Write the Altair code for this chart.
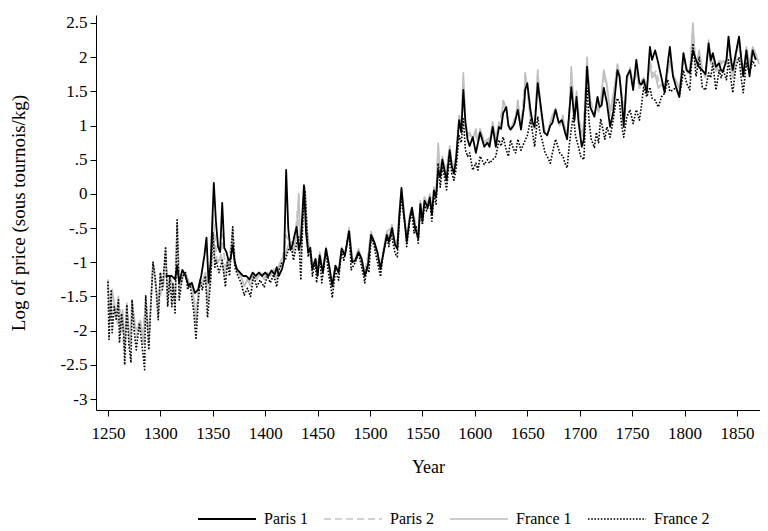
import altair as alt
import pandas as pd

series_names = ["Paris 1", "Paris 2", "France 1", "France 2"]

paris1_points = [
    (1305, -1.20), (1308, -1.20), (1311, -1.20), (1314, -1.25), (1316, -1.05), (1318, -1.30),
    (1321, -1.11), (1324, -1.20), (1327, -1.35), (1330, -1.30), (1333, -1.45), (1336, -1.40),
    (1339, -1.20), (1342, -0.90), (1344, -0.64), (1346, -1.30), (1348, -1.00), (1351, 0.16),
    (1353, -0.40), (1355, -0.77), (1357, -0.85), (1359, -0.13), (1361, -0.79), (1363, -0.85),
    (1365, -0.97), (1367, -0.95), (1369, -0.75), (1371, -1.00), (1373, -1.10), (1376, -1.15),
    (1379, -1.20), (1382, -1.20), (1385, -1.25), (1388, -1.15), (1391, -1.20), (1394, -1.15),
    (1397, -1.20), (1400, -1.15), (1403, -1.20), (1406, -1.12), (1409, -1.18), (1411, -1.07),
    (1413, -1.20), (1416, -1.10), (1418, -0.97), (1420, 0.35), (1422, -0.50), (1424, -0.82),
    (1426, -0.75), (1428, -0.60), (1430, -0.48), (1432, -0.82), (1434, -0.70), (1437, 0.13),
    (1439, -0.57), (1441, -0.85), (1443, -0.80), (1445, -1.10), (1448, -0.95), (1450, -1.20),
    (1452, -0.90), (1455, -1.15), (1458, -0.80), (1461, -1.05), (1464, -1.35), (1467, -1.05),
    (1470, -1.15), (1473, -0.80), (1476, -0.90), (1480, -0.55), (1483, -1.00), (1486, -0.97),
    (1489, -0.85), (1492, -0.95), (1495, -1.20), (1498, -1.05), (1501, -0.60), (1504, -0.70),
    (1507, -0.85), (1510, -1.10), (1513, -0.85), (1516, -0.60), (1518, -0.70), (1521, -0.50),
    (1524, -0.75), (1526, -0.80), (1528, -0.30), (1530, 0.09), (1532, -0.25), (1535, -0.70),
    (1538, -0.35), (1540, -0.20), (1543, -0.50), (1546, -0.65), (1548, -0.15), (1550, -0.40),
    (1552, -0.10), (1555, -0.20), (1557, -0.05), (1559, -0.30), (1561, 0.05), (1563, -0.05),
    (1565, 0.35), (1567, 0.25), (1569, 0.50), (1571, 0.35), (1573, 0.20), (1576, 0.64),
    (1578, 0.40), (1580, 0.30), (1582, 0.50), (1585, 1.08), (1587, 0.90), (1589, 1.52),
    (1591, 1.05), (1593, 0.80), (1595, 0.70), (1598, 0.83), (1601, 0.60), (1603, 0.75),
    (1605, 0.90), (1609, 0.69), (1612, 0.75), (1614, 0.69), (1617, 0.98), (1620, 0.69),
    (1623, 0.98), (1625, 0.95), (1627, 1.18), (1630, 1.27), (1632, 1.00), (1634, 0.94),
    (1637, 1.00), (1638, 1.04), (1641, 1.23), (1644, 0.94), (1647, 1.30), (1648, 1.52),
    (1650, 1.62), (1653, 1.23), (1655, 1.05), (1657, 0.98), (1660, 1.62), (1663, 1.27),
    (1666, 0.90), (1669, 0.86), (1672, 1.00), (1674, 1.04), (1677, 1.23), (1680, 1.04),
    (1683, 1.08), (1686, 0.90), (1688, 0.80), (1690, 1.18), (1692, 1.56), (1695, 1.08),
    (1697, 1.42), (1699, 1.04), (1702, 0.69), (1704, 0.80), (1707, 1.86), (1710, 1.27),
    (1714, 1.13), (1717, 1.42), (1719, 1.27), (1721, 1.30), (1723, 1.55), (1726, 1.33),
    (1729, 0.98), (1732, 1.20), (1736, 1.81), (1738, 1.72), (1740, 1.40), (1742, 0.98),
    (1745, 1.72), (1748, 1.81), (1751, 1.52), (1754, 1.96), (1757, 1.62), (1759, 1.60),
    (1761, 1.67), (1764, 1.48), (1767, 2.15), (1769, 1.96), (1772, 2.10), (1775, 1.91),
    (1778, 1.70), (1781, 1.48), (1784, 1.91), (1786, 2.15), (1789, 1.72), (1792, 1.56),
    (1795, 1.42), (1797, 1.70), (1799, 2.06), (1802, 1.81), (1805, 1.77), (1808, 2.10),
    (1811, 1.96), (1814, 1.85), (1817, 1.81), (1820, 1.75), (1823, 2.20), (1825, 1.95),
    (1827, 2.06), (1830, 1.86), (1833, 1.91), (1835, 1.80), (1837, 1.81), (1840, 1.96),
    (1842, 2.30), (1844, 2.00), (1846, 1.81), (1849, 2.06), (1852, 2.30), (1854, 2.00),
    (1856, 1.72), (1859, 2.10), (1862, 1.72), (1865, 2.10), (1868, 1.96),
]

paris2_points = [
    (1250, -1.30), (1253, -1.80), (1256, -1.60), (1259, -1.90), (1262, -1.70), (1265, -2.20),
    (1268, -1.70), (1271, -2.20), (1274, -1.65), (1277, -2.10), (1280, -1.85), (1283, -2.05),
    (1286, -1.60), (1289, -2.05), (1293, -1.05), (1296, -1.40), (1299, -1.60), (1302, -1.30),
    (1305, -0.90), (1308, -1.45), (1311, -1.30), (1314, -1.50), (1316, -0.60), (1319, -1.35),
    (1322, -1.20), (1325, -1.20), (1328, -1.30), (1331, -1.40), (1334, -1.75), (1337, -1.35),
    (1340, -1.30), (1343, -1.15), (1346, -1.50), (1349, -1.00), (1351, -0.45), (1354, -1.00),
    (1357, -1.00), (1359, -0.60), (1362, -1.10), (1365, -1.00), (1369, -0.60), (1372, -1.05),
    (1376, -1.20), (1380, -1.35), (1384, -1.30), (1388, -1.20), (1392, -1.25), (1396, -1.15),
    (1400, -1.20), (1404, -1.15), (1408, -1.15), (1412, -1.15), (1416, -1.00), (1420, -0.60),
    (1423, -0.75), (1426, -0.75), (1429, -0.55), (1431, -0.20), (1434, -0.80), (1437, 0.05),
    (1440, -0.55), (1443, -0.85), (1446, -1.05), (1449, -1.05), (1452, -0.90), (1455, -1.10),
    (1458, -0.80), (1461, -1.05), (1464, -1.30), (1467, -1.05), (1470, -1.10), (1473, -0.80),
    (1477, -0.85), (1480, -0.50), (1483, -0.95), (1487, -0.95), (1490, -0.85), (1494, -1.15),
    (1497, -1.00), (1501, -0.55), (1505, -0.80), (1510, -1.05), (1513, -0.80), (1516, -0.55),
    (1520, -0.50), (1524, -0.75), (1527, -0.60), (1530, 0.00), (1533, -0.30), (1535, -0.65),
    (1538, -0.30), (1541, -0.25), (1544, -0.45), (1546, -0.60), (1549, -0.15), (1552, -0.05),
    (1555, -0.15), (1558, -0.05), (1561, 0.05), (1563, 0.00), (1565, 0.65), (1567, 0.30),
    (1569, 0.50), (1572, 0.35), (1576, 0.65), (1579, 0.40), (1582, 0.50), (1585, 1.10),
    (1587, 0.95), (1589, 1.65), (1591, 1.05), (1594, 0.85), (1597, 0.85), (1600, 0.90),
    (1603, 0.75), (1606, 0.90), (1609, 0.75), (1613, 0.80), (1617, 1.00), (1620, 0.80),
    (1623, 1.00), (1627, 1.30), (1630, 1.20), (1633, 0.95), (1637, 1.05), (1641, 1.30),
    (1644, 0.95), (1648, 1.70), (1650, 1.55), (1653, 1.15), (1657, 0.95), (1660, 1.75),
    (1663, 1.25), (1666, 0.95), (1669, 0.85), (1672, 1.05), (1675, 1.15), (1678, 1.20),
    (1681, 1.00), (1684, 1.10), (1688, 0.85), (1690, 1.15), (1692, 1.75), (1695, 1.20),
    (1697, 1.45), (1700, 1.05), (1703, 0.85), (1707, 1.95), (1710, 1.40), (1714, 1.15),
    (1717, 1.35), (1720, 1.30), (1723, 1.75), (1726, 1.55), (1729, 1.15), (1732, 1.40),
    (1736, 1.85), (1738, 1.70), (1741, 1.35), (1743, 1.10), (1745, 1.65), (1748, 1.80),
    (1751, 1.55), (1754, 1.85), (1757, 1.55), (1760, 1.65), (1764, 1.50), (1767, 1.95),
    (1770, 1.75), (1773, 1.80), (1776, 1.60), (1779, 1.60), (1782, 1.55), (1785, 1.85),
    (1787, 1.90), (1790, 1.70), (1793, 1.60), (1796, 1.55), (1799, 2.00), (1802, 1.80),
    (1805, 1.70), (1808, 2.40), (1811, 1.85), (1814, 2.05), (1817, 1.80), (1820, 1.70),
    (1823, 2.20), (1826, 1.90), (1828, 2.00), (1831, 1.80), (1834, 1.95), (1837, 1.90),
    (1840, 1.90), (1842, 2.25), (1845, 1.85), (1847, 1.70), (1850, 2.05), (1852, 2.25),
    (1855, 1.90), (1857, 1.75), (1860, 2.10), (1862, 1.85), (1865, 2.10), (1868, 2.00),
    (1871, 1.95),
]

france1_points = [
    (1250, -1.25), (1252, -1.85), (1254, -1.40), (1256, -1.60), (1258, -1.80), (1260, -1.50),
    (1262, -2.05), (1264, -1.70), (1266, -2.30), (1268, -1.60), (1271, -2.25), (1273, -1.55),
    (1276, -1.95), (1279, -2.00), (1281, -1.85), (1284, -2.20), (1286, -1.50), (1289, -2.15),
    (1293, -1.00), (1296, -1.35), (1298, -1.75), (1300, -1.15), (1303, -1.35), (1305, -0.80),
    (1307, -1.55), (1309, -1.20), (1312, -1.35), (1314, -1.60), (1316, -0.45), (1318, -1.40),
    (1321, -1.20), (1324, -1.15), (1327, -1.30), (1330, -1.35), (1332, -1.55), (1334, -1.90),
    (1337, -1.30), (1340, -1.30), (1343, -1.15), (1345, -1.60), (1348, -1.15), (1350, -0.30),
    (1352, -0.95), (1355, -1.00), (1358, -0.90), (1361, -1.20), (1364, -0.95), (1366, -1.10),
    (1369, -0.50), (1371, -1.00), (1374, -1.15), (1377, -1.20), (1380, -1.35), (1383, -1.25),
    (1386, -1.35), (1389, -1.15), (1392, -1.25), (1395, -1.15), (1399, -1.25), (1402, -1.15),
    (1405, -1.20), (1408, -1.10), (1411, -1.25), (1413, -1.05), (1416, -0.95), (1419, -0.90),
    (1422, -0.75), (1425, -0.70), (1427, -0.85), (1430, -0.55), (1432, 0.00), (1434, -0.90),
    (1436, -0.30), (1438, 0.10), (1440, -0.50), (1442, -0.80), (1445, -1.10), (1448, -0.95),
    (1450, -1.15), (1452, -0.85), (1455, -1.15), (1458, -0.78), (1461, -1.05), (1464, -1.35),
    (1467, -1.05), (1470, -1.15), (1473, -0.78), (1476, -0.90), (1480, -0.50), (1483, -0.95),
    (1486, -0.95), (1489, -0.80), (1492, -0.95), (1495, -1.15), (1498, -1.00), (1501, -0.55),
    (1504, -0.70), (1507, -0.85), (1510, -1.10), (1513, -0.80), (1516, -0.55), (1518, -0.65),
    (1521, -0.45), (1524, -0.75), (1526, -0.75), (1528, -0.25), (1530, 0.05), (1532, -0.20),
    (1535, -0.65), (1538, -0.30), (1540, -0.20), (1543, -0.45), (1546, -0.60), (1548, -0.10),
    (1550, -0.35), (1552, -0.05), (1555, -0.15), (1557, 0.00), (1559, -0.25), (1561, 0.10),
    (1563, 0.00), (1565, 0.74), (1567, 0.30), (1569, 0.55), (1571, 0.40), (1573, 0.25),
    (1576, 0.70), (1578, 0.45), (1580, 0.40), (1582, 0.55), (1585, 1.15), (1587, 0.95),
    (1589, 1.77), (1591, 1.05), (1593, 0.85), (1595, 0.90), (1598, 0.80), (1601, 0.95),
    (1603, 0.75), (1605, 0.95), (1609, 0.75), (1612, 0.80), (1614, 0.75), (1617, 1.05),
    (1620, 0.80), (1623, 1.05), (1625, 1.00), (1627, 1.37), (1630, 1.25), (1632, 1.00),
    (1634, 0.95), (1637, 1.05), (1639, 1.10), (1641, 1.37), (1644, 0.95), (1647, 1.30),
    (1648, 1.77), (1650, 1.55), (1653, 1.10), (1655, 1.00), (1657, 0.95), (1660, 1.81),
    (1662, 1.30), (1664, 1.10), (1667, 0.90), (1669, 0.85), (1672, 1.05), (1674, 1.15),
    (1677, 1.25), (1679, 1.10), (1681, 1.00), (1684, 1.15), (1686, 0.90), (1688, 0.85),
    (1690, 1.15), (1692, 1.86), (1694, 1.35), (1696, 1.20), (1697, 1.50), (1699, 1.10),
    (1701, 0.90), (1704, 0.95), (1707, 2.00), (1709, 1.50), (1711, 1.25), (1714, 1.15),
    (1716, 1.30), (1718, 1.20), (1720, 1.35), (1723, 1.81), (1726, 1.60), (1729, 1.20),
    (1732, 1.45), (1734, 1.65), (1736, 1.90), (1738, 1.75), (1740, 1.45), (1742, 1.15),
    (1745, 1.65), (1748, 1.85), (1751, 1.60), (1754, 1.80), (1757, 1.55), (1759, 1.65),
    (1761, 1.70), (1764, 1.55), (1767, 1.90), (1769, 1.70), (1772, 1.75), (1775, 1.55),
    (1778, 1.60), (1781, 1.55), (1784, 1.80), (1786, 1.95), (1789, 1.75), (1792, 1.65),
    (1795, 1.55), (1797, 1.75), (1799, 2.05), (1802, 1.85), (1805, 1.75), (1808, 2.50),
    (1810, 1.95), (1811, 1.85), (1814, 2.10), (1817, 1.80), (1820, 1.75), (1823, 2.25),
    (1825, 1.90), (1827, 2.05), (1830, 1.80), (1833, 1.95), (1835, 1.90), (1837, 1.95),
    (1840, 1.90), (1842, 2.30), (1844, 1.95), (1846, 1.70), (1849, 2.05), (1852, 2.30),
    (1854, 1.95), (1856, 1.75), (1859, 2.15), (1862, 1.90), (1865, 2.15), (1868, 2.05),
    (1871, 1.90),
]

france2_points = [
    (1250, -1.28), (1251, -2.13), (1253, -1.40), (1254, -2.03), (1256, -1.65), (1258, -1.85),
    (1260, -1.55), (1261, -2.18), (1263, -1.75), (1265, -2.05), (1266, -2.50), (1268, -1.62),
    (1270, -2.20), (1272, -2.47), (1273, -1.55), (1275, -2.00), (1277, -2.28), (1280, -1.89),
    (1283, -2.28), (1285, -2.57), (1286, -1.48), (1289, -2.28), (1291, -1.60), (1293, -1.00),
    (1295, -1.21), (1298, -1.84), (1300, -1.15), (1302, -1.40), (1305, -0.77), (1307, -1.65),
    (1309, -1.21), (1311, -1.65), (1312, -1.30), (1314, -1.74), (1316, -0.38), (1318, -1.55),
    (1321, -1.21), (1324, -1.15), (1326, -1.40), (1328, -1.30), (1330, -1.50), (1332, -1.75),
    (1334, -2.13), (1336, -1.60), (1338, -1.26), (1340, -1.40), (1343, -1.20), (1345, -1.81),
    (1348, -1.26), (1350, -0.57), (1352, -1.07), (1353, -0.97), (1356, -1.15), (1359, -0.97),
    (1362, -1.36), (1364, -1.00), (1366, -1.20), (1369, -0.48), (1371, -1.07), (1374, -1.20),
    (1377, -1.30), (1380, -1.48), (1383, -1.38), (1386, -1.50), (1389, -1.20), (1392, -1.36),
    (1395, -1.26), (1399, -1.36), (1402, -1.20), (1405, -1.30), (1408, -1.18), (1411, -1.36),
    (1413, -1.12), (1416, -1.00), (1419, -0.97), (1422, -0.82), (1425, -0.77), (1427, -0.97),
    (1430, -0.72), (1432, -0.63), (1434, -1.26), (1436, -0.33), (1438, 0.05), (1440, -0.57),
    (1441, -0.92), (1443, -0.77), (1445, -1.20), (1448, -1.00), (1449, -1.30), (1452, -0.92),
    (1454, -1.30), (1458, -0.82), (1460, -1.12), (1463, -1.40), (1464, -1.52), (1467, -1.12),
    (1470, -1.26), (1473, -0.82), (1475, -0.97), (1477, -0.82), (1480, -0.53), (1482, -1.11),
    (1486, -1.00), (1489, -0.87), (1491, -1.00), (1494, -1.21), (1495, -1.30), (1497, -1.07),
    (1499, -1.15), (1501, -0.63), (1504, -0.77), (1506, -0.92), (1510, -1.21), (1512, -0.92),
    (1516, -0.63), (1518, -0.77), (1520, -0.58), (1524, -0.87), (1526, -0.92), (1528, -0.38),
    (1530, -0.05), (1532, -0.30), (1534, -0.53), (1535, -0.77), (1538, -0.38), (1540, -0.28),
    (1542, -0.57), (1544, -0.48), (1546, -0.72), (1548, -0.20), (1550, -0.45), (1552, -0.15),
    (1554, -0.25), (1557, -0.10), (1559, -0.40), (1561, 0.00), (1563, -0.15), (1565, 0.45),
    (1567, 0.10), (1569, 0.40), (1571, 0.25), (1573, 0.06), (1576, 0.55), (1578, 0.30),
    (1580, 0.20), (1582, 0.35), (1585, 0.85), (1587, 0.75), (1589, 1.10), (1591, 0.64),
    (1593, 0.55), (1595, 0.60), (1598, 0.35), (1601, 0.45), (1603, 0.35), (1605, 0.55),
    (1609, 0.43), (1612, 0.50), (1614, 0.45), (1617, 0.50), (1620, 0.55), (1623, 0.79),
    (1625, 0.70), (1627, 0.83), (1630, 0.64), (1632, 0.55), (1634, 0.79), (1637, 0.65),
    (1639, 0.60), (1641, 0.80), (1644, 0.64), (1647, 0.75), (1650, 0.85), (1653, 1.08),
    (1655, 0.90), (1657, 0.69), (1660, 1.13), (1662, 0.90), (1664, 0.80), (1667, 0.60),
    (1669, 0.55), (1672, 0.45), (1674, 0.60), (1677, 0.80), (1679, 0.70), (1681, 0.60),
    (1684, 0.55), (1686, 0.45), (1688, 0.38), (1690, 0.70), (1692, 0.95), (1694, 1.15),
    (1696, 0.85), (1699, 0.68), (1701, 0.55), (1704, 0.50), (1706, 1.30), (1707, 1.55),
    (1709, 1.05), (1711, 0.80), (1714, 0.68), (1716, 0.90), (1718, 0.75), (1720, 1.10),
    (1722, 0.95), (1724, 0.80), (1726, 0.98), (1729, 0.83), (1732, 1.08), (1734, 1.30),
    (1736, 1.40), (1738, 1.33), (1740, 1.00), (1742, 0.83), (1745, 1.13), (1748, 1.23),
    (1751, 1.03), (1754, 1.23), (1757, 1.08), (1759, 1.30), (1761, 1.56), (1764, 1.42),
    (1767, 1.56), (1769, 1.40), (1772, 1.37), (1775, 1.27), (1778, 1.42), (1781, 1.47),
    (1784, 1.67), (1786, 1.50), (1789, 1.52), (1792, 1.56), (1795, 1.42), (1797, 1.60),
    (1799, 1.81), (1802, 1.62), (1805, 1.52), (1808, 2.20), (1811, 1.72), (1814, 2.00),
    (1817, 1.56), (1820, 1.52), (1823, 1.77), (1825, 1.70), (1827, 1.91), (1830, 1.52),
    (1833, 1.81), (1835, 1.70), (1837, 1.81), (1840, 1.67), (1842, 1.96), (1844, 1.70),
    (1846, 1.48), (1849, 1.86), (1852, 2.00), (1854, 1.70), (1856, 1.48), (1859, 1.91),
    (1862, 1.77), (1865, 1.95), (1868, 1.85),
]

y_ticks = [-3, -2.5, -2, -1.5, -1, -0.5, 0, 0.5, 1, 1.5, 2, 2.5]
x_ticks = [1250, 1300, 1350, 1400, 1450, 1500, 1550, 1600, 1650, 1700, 1750, 1800, 1850]

rows = []
for name, pts in zip(series_names, [paris1_points, paris2_points, france1_points, france2_points]):
    for yr, v in pts:
        rows.append({"year": yr, "value": v, "series": name})
df = pd.DataFrame(rows)

FONT = "Liberation Serif"

legend = alt.Legend(
    title=None, orient="none", legendX=101, legendY=474, direction="horizontal",
    columns=4, symbolType="stroke", symbolSize=3364, labelFont=FONT, labelFontSize=16,
    labelColor="#000000", labelOffset=7, columnPadding=12, labelLimit=0,
    labelBaseline="middle", gridAlign="each",
)

color = alt.Color("series:N", scale=alt.Scale(domain=series_names,
                  range=["#000000", "#c4c4c4", "#bcbcbc", "#000000"]), legend=legend)
dash = alt.StrokeDash("series:N", scale=alt.Scale(domain=series_names,
                      range=[[1, 0], [7, 4], [1, 0], [1.6, 1.6]]), legend=legend)
width_enc = alt.StrokeWidth("series:N", scale=alt.Scale(domain=series_names,
                            range=[1.8, 1.6, 2.8, 1.7]), legend=legend)

x_enc = alt.X("year:Q", scale=alt.Scale(domain=[1238.6, 1872], nice=False, zero=False),
              axis=alt.Axis(values=x_ticks, format="d", title="Year", tickSize=6,
                            labelPadding=9, titlePadding=17, labelFontSize=17,
                            titleFontSize=18))
y_enc = alt.Y("value:Q", scale=alt.Scale(domain=[-3.16, 2.617], nice=False, zero=False),
              axis=alt.Axis(values=y_ticks, title="Log of price (sous tournois/kg)",
                            labelExpr="datum.value == 0.5 ? '.5' : (datum.value == -0.5 ? '-.5' : '' + datum.value)",
                            tickSize=6, labelPadding=3, titleX=-78, titleY=197.5,
                            titleBaseline="middle", labelFontSize=17, titleFontSize=19))

base = alt.Chart(df).mark_line(clip=True, strokeCap="butt", strokeJoin="round").encode(
    x=x_enc, y=y_enc, color=color, strokeDash=dash, strokeWidth=width_enc
)

draw_order = ["France 1", "Paris 2", "Paris 1", "France 2"]
layers = [base.transform_filter(alt.datum.series == s) for s in draw_order]

chart = alt.layer(*layers).properties(
    width=664, height=395, autosize="none",
    padding={"left": 88, "top": 7, "right": 0, "bottom": 120},
).configure_view(stroke=None).configure_axis(
    grid=False, domainColor="#000000", tickColor="#000000", domainWidth=1, tickWidth=1,
    labelFont=FONT, labelColor="#000000",
    titleFont=FONT, titleFontWeight="normal", titleColor="#000000",
)

chart.save("out.html", embed_options={"renderer": "svg", "actions": False})
